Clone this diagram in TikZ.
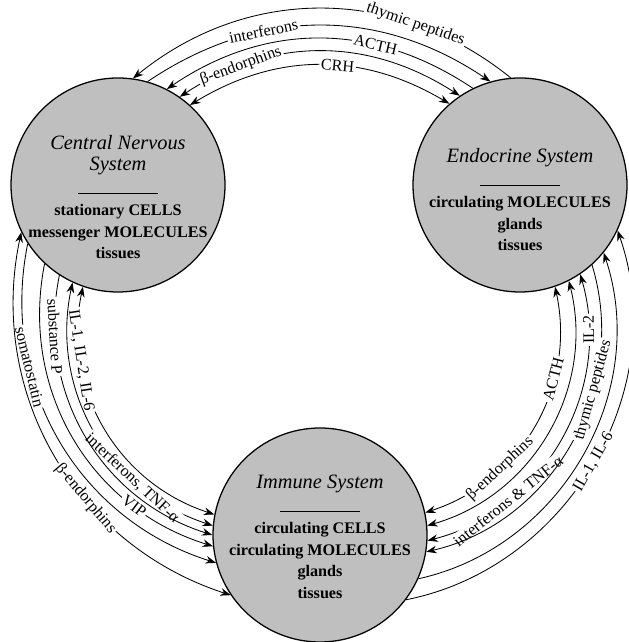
\documentclass[tikz,border=0pt]{standalone}
\usepackage{fontspec}
\setmainfont{Liberation Serif}
\usetikzlibrary{arrows.meta}
\newcommand{\ttlfont}{\fontsize{14.5}{17}\selectfont\mdseries\itshape}
\begin{document}
\begin{tikzpicture}[x=0.25mm, y=0.25mm, >={Stealth[length=2.6mm, width=1.9mm]}]
\tikzstyle{every node}=[font=\fontsize{11.5}{14}\selectfont]
\tikzstyle{sys}=[draw, circle, line width=0.9pt, fill=black!25, minimum size=53.5mm, inner sep=0pt]
\tikzstyle{systxt}=[align=center, inner sep=0pt, font=\fontsize{11.5}{15.4}\selectfont\bfseries]
\tikzstyle{msg}=[line width=0.6pt]
\tikzstyle{lbl}=[fill=white, inner sep=1.2pt, sloped]
\useasboundingbox (0,0) rectangle (628,642);

% Systems
\node[sys] (cns) at (118,457) {};
\node[systxt] (cnstxt) at (118,445) {{\ttlfont Central Nervous}\\{\ttlfont System}\\[1pt]\rule{20mm}{0.5pt}\\stationary CELLS\\messenger MOLECULES\\tissues};
\node[sys] (endo) at (520,457) {};
\node[systxt] (endotxt) at (520,442) {{\ttlfont Endocrine System}\\[1pt]\rule{20mm}{0.5pt}\\circulating MOLECULES\\glands\\tissues};
\node[sys] (imm) at (320,107) {};
\node[systxt] (immtxt) at (320,105) {{\ttlfont Immune System}\\[1pt]\rule{20mm}{0.5pt}\\circulating CELLS\\circulating MOLECULES\\glands\\tissues};

% CNS -- Endocrine
\draw[msg,<-] (cns.82) to[bend left=39] node[lbl,pos=0.74]{thymic peptides} (endo.95);
\draw[msg,->] (cns.74) to[bend left=34] node[lbl,pos=0.34]{interferons} (endo.106);
\draw[msg,<-] (cns.63) to[bend left=34] node[lbl,pos=0.68]{ACTH} (endo.116);
\draw[msg,<->] (cns.55) to[bend left=33] node[lbl,pos=0.22]{β-endorphins} (endo.124);
\draw[msg,<->] (cns.48) to[bend left=31] node[lbl,pos=0.57]{CRH} (endo.131);

% Immune -- Endocrine
\draw[msg,<->] (imm.12) to[bend right=42] node[lbl,pos=0.3]{β-endorphins} node[lbl,pos=0.68]{ACTH} (endo.-71);
\draw[msg,<->] (imm.5) to[bend right=44] (endo.-63);
\draw[msg,<->] (imm.-3) to[bend right=46] node[lbl,pos=0.26]{interferons \& TNF-α} node[lbl,pos=0.84,allow upside down]{IL-2} (endo.-56);
\draw[msg,<-] (imm.-9) to[bend right=47] node[lbl,pos=0.66]{thymic peptides} (endo.-48);
\draw[msg,->] (imm.-24) to[bend right=48] (endo.-39);
\draw[msg,->] (imm.-37) to[bend right=49] node[lbl,pos=0.5]{IL-1, IL-6} (endo.-25);

% CNS -- Immune
\draw[msg,<->] (cns.-109) to[bend right=42] node[lbl,pos=0.25]{IL-1, IL-2, IL-6} (imm.169);
\draw[msg,<->] (cns.-115) to[bend right=42] node[lbl,pos=0.7]{interferons, TNF-α} (imm.175);
\draw[msg,->] (cns.-123.5) to[bend right=42] node[lbl,pos=0.18]{substance P} (imm.180);
\draw[msg,->] (cns.-133) to[bend right=42] node[lbl,pos=0.76]{VIP} (imm.186);
\draw[msg,->] (cns.-147.5) to[bend right=42] node[lbl,pos=0.3]{somatostatin} (imm.195);
\draw[msg,<->] (cns.-154) to[bend right=42] node[lbl,pos=0.62]{β-endorphins} (imm.214);
\end{tikzpicture}
\end{document}
